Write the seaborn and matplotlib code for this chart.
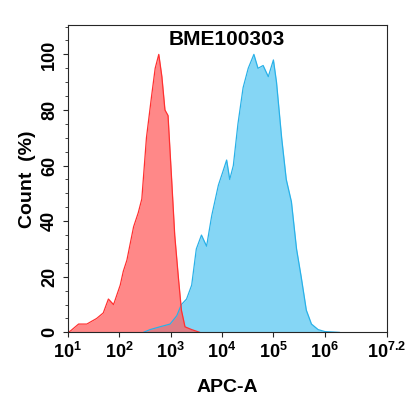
import numpy as np
import matplotlib
matplotlib.use("Agg")
import matplotlib.pyplot as plt
import seaborn as sns

red_logx = [1.0,1.05,1.21,1.37,1.56,1.69,1.79,1.89,2.02,2.08,2.15,2.28,2.37,2.44,2.53,2.63,2.70,2.77,2.83,2.89,2.95,3.02,3.08,3.15,3.21,3.28,3.41,3.57]
red_y = [0,0.5,3,3,5,7,12,10,17,22,26,38,43,48,70,85,95,100,92,80,78,55,35,20,8,2,1,0]
blue_logx = [2.47,2.6,2.79,2.99,3.12,3.21,3.31,3.41,3.50,3.60,3.70,3.80,3.93,4.02,4.09,4.15,4.22,4.31,4.41,4.51,4.62,4.70,4.80,4.90,5.0,5.06,5.16,5.25,5.35,5.45,5.54,5.64,5.74,5.87,6.0,6.29]
blue_y = [0,1,2,3,6,10,12,17,30,35,31,42,53,58,62,55,60,75,88,95,100,95,96,92,98,90,70,55,47,30,20,8,3,1,0.3,0]
tick_pos = [1,2,3,4,5,6,7.2]
tick_labels = ["$10^1$","$10^2$","$10^3$","$10^4$","$10^5$","$10^6$","$10^{7.2}$"]

sns.set_style("ticks")
plt.rcParams['font.family'] = ['Liberation Sans', 'DejaVu Sans']
plt.rcParams['mathtext.fontset'] = 'custom'
plt.rcParams['mathtext.rm'] = 'Liberation Sans:bold'
plt.rcParams['mathtext.it'] = 'Liberation Sans:bold'
plt.rcParams['mathtext.bf'] = 'Liberation Sans:bold'
fig, ax = plt.subplots(figsize=(4.06,4.0), dpi=100)
fig.subplots_adjust(left=0.167, right=0.952, top=0.937, bottom=0.169)
bx = np.power(10.0, blue_logx); rx = np.power(10.0, red_logx)
ax.fill_between(bx, blue_y, color="#7fd4f5", alpha=0.95, linewidth=0)
sns.lineplot(x=bx, y=blue_y, ax=ax, color="#29b1e8", linewidth=0.9)
ax.fill_between(rx, red_y, color="#ff6060", alpha=0.75, linewidth=0)
sns.lineplot(x=rx, y=red_y, ax=ax, color="#ff3030", linewidth=0.9)
ax.set_xscale("log")
ax.set_xlim(10**1, 10**7.2)
ax.set_ylim(0, 110.5)
ax.set_xticks([10**p for p in tick_pos])
ax.set_xticklabels(tick_labels)
ax.minorticks_off()
ax.set_yticks([0,20,40,60,80,100])
ax.set_yticks(np.arange(0,111,5), minor=True)
ax.tick_params(axis="y", which="minor", length=2)
for lab in ax.get_xticklabels()+ax.get_yticklabels():
    lab.set_fontweight("bold"); lab.set_fontsize(13); lab.set_color("black")
for lab in ax.get_yticklabels():
    lab.set_rotation(90); lab.set_va("center")
ax.set_xlabel("APC-A", fontsize=14, fontweight="bold", labelpad=12, color="black")
ax.set_ylabel("Count  (%)", fontsize=14, fontweight="bold", color="black")
ax.set_title("BME100303", fontsize=15, fontweight="bold", y=0.91, color="black")
fig.savefig("out.png", dpi=100)
